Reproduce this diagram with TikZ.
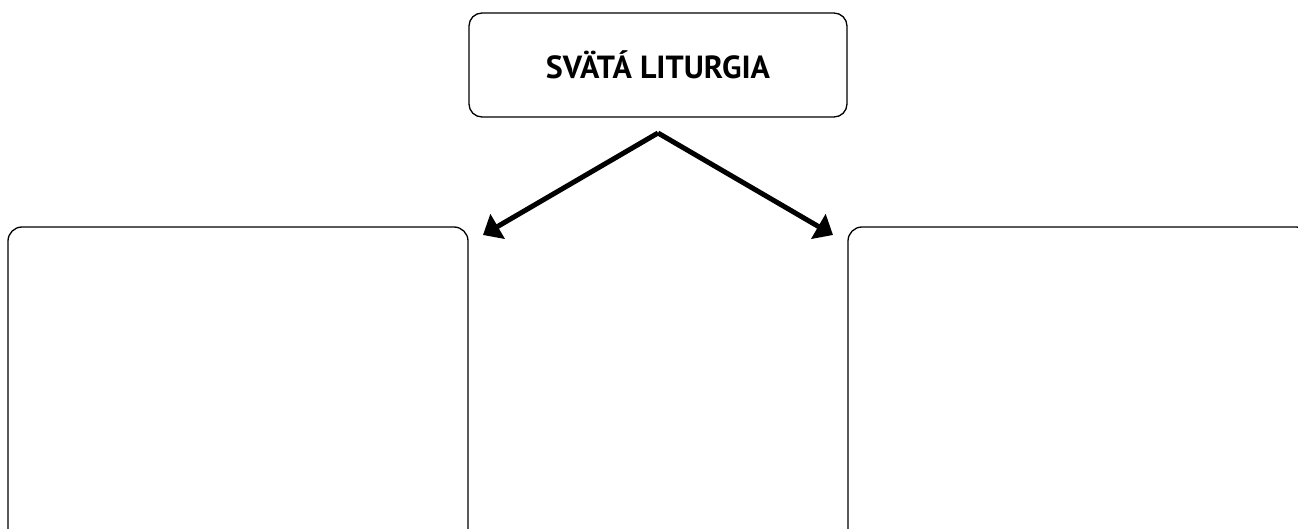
\documentclass[tikz,border=0pt]{standalone}
\usepackage{fontspec}
\setmainfont{PT Sans}
\usepackage{tikz}
\usetikzlibrary{arrows.meta,positioning,calc}

\begin{document}
\begin{tikzpicture}[
    x=1pt, y=1pt,
    box/.style={rectangle, draw, rounded corners=14pt, line width=1.3pt, outer sep=0pt},
    arrow/.style={-{Triangle[length=17pt, width=28pt]}, line width=5pt}
]
    \useasboundingbox (0,0) rectangle (1298,-529);
    \clip (0,0) rectangle (1298,-529);

    % Title (top)
    \node[box, rounded corners=13pt, minimum width=378pt, minimum height=104pt,
          font=\fontsize{32}{38}\selectfont\bfseries] (title) at (658,-65) {SVÄTÁ LITURGIA};

    % Empty boxes (left and right, cut off at the edge)
    \node[box, minimum width=460pt, minimum height=318pt] (leftbox) at (238,-386) {};
    \node[box, minimum width=462pt, minimum height=318pt] (rightbox) at (1079,-386) {};

    % Fork point and arrow tips
    \coordinate (fork) at ([yshift=-16pt]title.south);
    \coordinate (lefttip) at ([xshift=15pt, yshift=-8pt]leftbox.north east);
    \coordinate (righttip) at ([xshift=-15pt, yshift=-8pt]rightbox.north west);

    % Arrows
    \draw[arrow] (fork) -- (lefttip);
    \draw[arrow] (fork) -- (righttip);
\end{tikzpicture}
\end{document}
